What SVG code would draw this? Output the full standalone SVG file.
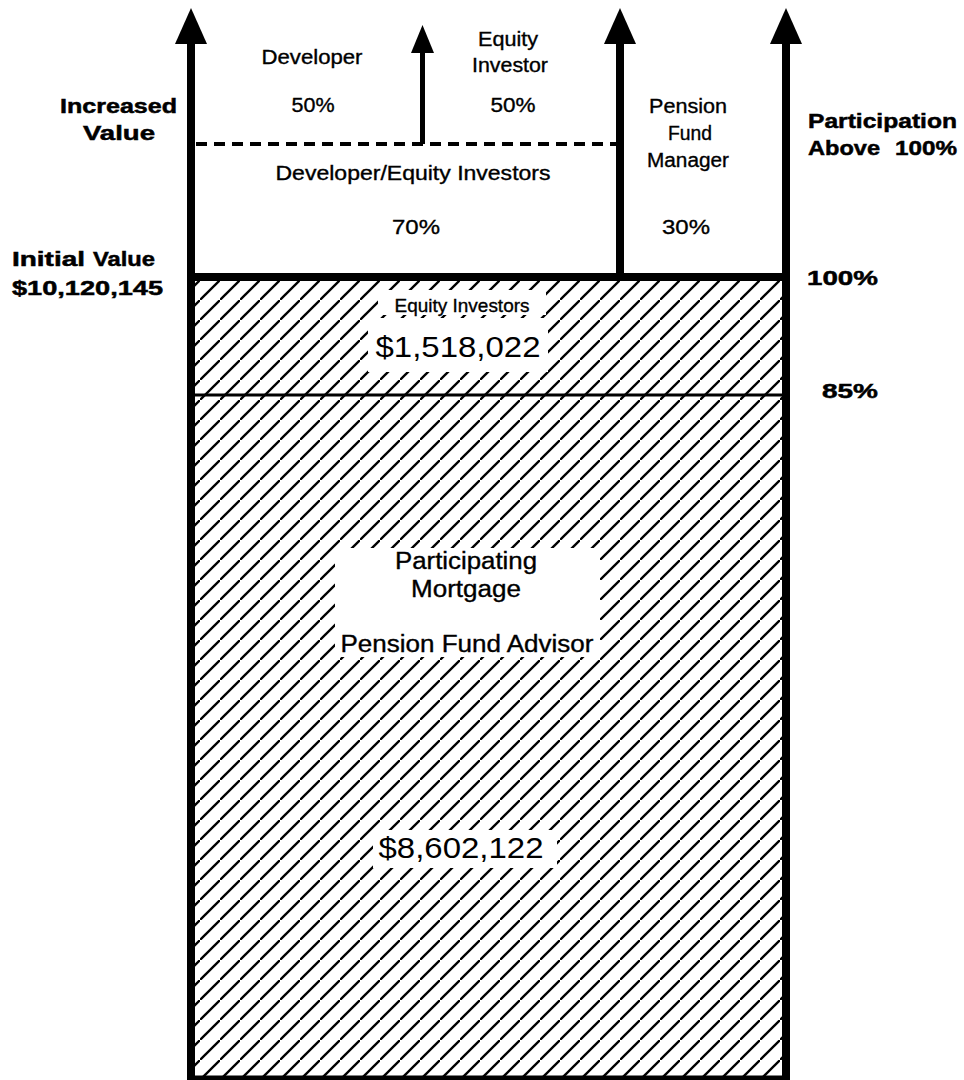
<svg xmlns="http://www.w3.org/2000/svg" width="964" height="1080" viewBox="0 0 964 1080">
<style>
.lbl{font-family:"Liberation Sans",Arial,sans-serif;font-size:20px;fill:#000;stroke:#000;stroke-width:0.35;text-anchor:middle}
.big{font-family:"Liberation Sans",Arial,sans-serif;font-size:29px;fill:#000;text-anchor:middle}
.bold{font-family:"Liberation Sans",Arial,sans-serif;font-size:21px;font-weight:bold;fill:#000;stroke:#000;stroke-width:0.5}
.thick{stroke:#000;stroke-width:8;fill:none}
.head{fill:#000}
</style>
<defs>
<pattern id="hatch" patternUnits="userSpaceOnUse" width="20" height="20">
<line x1="-2" y1="22" x2="22" y2="-2" stroke="#000" stroke-width="2.3"/>
</pattern>
</defs>
<rect width="964" height="1080" fill="#fff"/>
<g id="hatched-area">
<rect x="195" y="281" width="588" height="795" fill="url(#hatch)"/>
<rect x="378" y="290" width="168" height="25" fill="#fff"/>
<rect x="368" y="318" width="180" height="54" fill="#fff"/>
<rect x="335" y="548" width="265" height="109" fill="#fff"/>
<rect x="373" y="830" width="184" height="38" fill="#fff"/>
</g>
<g id="connectors">
<line class="thick" x1="191" y1="40" x2="191" y2="1080"/>
<polygon class="head" points="191,8 175,44 207,44"/>
<line class="thick" x1="786" y1="40" x2="786" y2="1080"/>
<polygon class="head" points="786,8 770,44 802,44"/>
<line class="thick" x1="620" y1="40" x2="620" y2="277"/>
<polygon class="head" points="620,8 604,44 636,44"/>
<line stroke="#000" stroke-width="5" x1="422.5" y1="48" x2="422.5" y2="144"/>
<polygon class="head" points="422.5,25 411,53 434,53"/>
<line stroke="#000" stroke-width="4" stroke-dasharray="11,7" x1="196" y1="144" x2="620" y2="144"/>
<line class="thick" x1="187" y1="277" x2="790" y2="277"/>
<line stroke="#000" stroke-width="3" x1="191" y1="395" x2="786" y2="395"/>
<line stroke="#000" stroke-width="5" x1="187" y1="1078" x2="790" y2="1078"/>
</g>
<g id="developer">
<text class="lbl" x="312" y="64" textLength="101" lengthAdjust="spacingAndGlyphs">Developer</text>
<text class="lbl" x="313" y="112" textLength="43" lengthAdjust="spacingAndGlyphs">50%</text>
</g>
<g id="equity-investor">
<text class="lbl" x="508" y="46" textLength="60" lengthAdjust="spacingAndGlyphs">Equity</text>
<text class="lbl" x="510" y="72" textLength="76" lengthAdjust="spacingAndGlyphs">Investor</text>
<text class="lbl" x="513" y="112" textLength="45" lengthAdjust="spacingAndGlyphs">50%</text>
</g>
<g id="developer-equity-investors">
<text class="lbl" x="413" y="180" textLength="275" lengthAdjust="spacingAndGlyphs">Developer/Equity Investors</text>
<text class="lbl" x="416" y="234" style="font-size:21px" textLength="48" lengthAdjust="spacingAndGlyphs">70%</text>
</g>
<g id="pension-fund-manager">
<text class="lbl" x="688" y="113" textLength="78" lengthAdjust="spacingAndGlyphs">Pension</text>
<text class="lbl" x="690" y="140" textLength="44" lengthAdjust="spacingAndGlyphs">Fund</text>
<text class="lbl" x="688" y="167" textLength="82" lengthAdjust="spacingAndGlyphs">Manager</text>
<text class="lbl" x="686" y="234" style="font-size:21px" textLength="48" lengthAdjust="spacingAndGlyphs">30%</text>
</g>
<g id="equity-investors">
<text class="lbl" x="462" y="312" style="font-size:19px" textLength="135" lengthAdjust="spacingAndGlyphs">Equity Investors</text>
<text class="big" x="458" y="357" textLength="165" lengthAdjust="spacingAndGlyphs">$1,518,022</text>
</g>
<g id="participating-mortgage">
<text class="lbl" x="466" y="569" style="font-size:23px" textLength="142" lengthAdjust="spacingAndGlyphs">Participating</text>
<text class="lbl" x="466" y="597" style="font-size:23px" textLength="110" lengthAdjust="spacingAndGlyphs">Mortgage</text>
<text class="lbl" x="467" y="652" style="font-size:23px" textLength="253" lengthAdjust="spacingAndGlyphs">Pension Fund Advisor</text>
<text class="big" x="461" y="858" textLength="165" lengthAdjust="spacingAndGlyphs">$8,602,122</text>
</g>
<g id="left-labels">
<text class="bold" x="60" y="113" textLength="117" lengthAdjust="spacingAndGlyphs">Increased</text>
<text class="bold" x="83" y="140" textLength="72" lengthAdjust="spacingAndGlyphs">Value</text>
<text class="bold" x="12" y="266" textLength="73" lengthAdjust="spacingAndGlyphs">Initial</text>
<text class="bold" x="93" y="266" textLength="62" lengthAdjust="spacingAndGlyphs">Value</text>
<text class="bold" x="12" y="295" textLength="151" lengthAdjust="spacingAndGlyphs">$10,120,145</text>
</g>
<g id="right-labels">
<text class="bold" x="808" y="128" textLength="149" lengthAdjust="spacingAndGlyphs">Participation</text>
<text class="bold" x="808" y="155" textLength="72" lengthAdjust="spacingAndGlyphs">Above</text>
<text class="bold" x="895" y="155" textLength="62" lengthAdjust="spacingAndGlyphs">100%</text>
<text class="bold" x="807" y="285" textLength="71" lengthAdjust="spacingAndGlyphs">100%</text>
<text class="bold" x="822" y="398" textLength="56" lengthAdjust="spacingAndGlyphs">85%</text>
</g>
</svg>
